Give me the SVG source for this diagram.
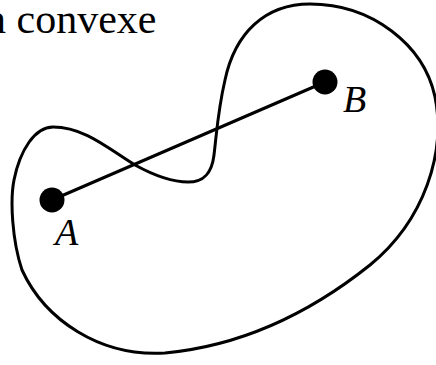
<svg xmlns="http://www.w3.org/2000/svg" width="436" height="365" viewBox="0 0 436 365">
<style>
.t{font-family:"Liberation Serif","Times New Roman",serif;fill:#000}
.lbl{font-style:italic;font-size:38px}
.ln{fill:none;stroke:#000;stroke-width:3;stroke-linejoin:round;stroke-linecap:round}
</style>
<rect width="436" height="365" fill="#fff"/>
<text class="t" x="-15" y="33" font-size="42">n convexe</text>
<g id="region">
<path class="ln" d="M 53,127 C 85,127 110,150 135,165 C 155,176 172,182 188,182 C 205,182 212,172 214,155 C 217,130 218,110 225,80 C 235,33 265,4 310,4 C 372,4 424,45 435,97 C 446,152 425,220 370,265 C 320,305 250,345 165,353 C 100,357 45,320 22,270 C 12,240 10,200 14,180 C 20,150 35,127 53,127 Z"/>
</g>
<g id="connectors">
<line class="ln" x1="52" y1="200" x2="325" y2="82"/>
</g>
<g id="A">
<circle cx="52" cy="200" r="12.5" fill="#000"/>
<text class="t lbl" x="55" y="245">A</text>
</g>
<g id="B">
<circle cx="325" cy="82" r="12.5" fill="#000"/>
<text class="t lbl" x="343" y="112">B</text>
</g>
</svg>
